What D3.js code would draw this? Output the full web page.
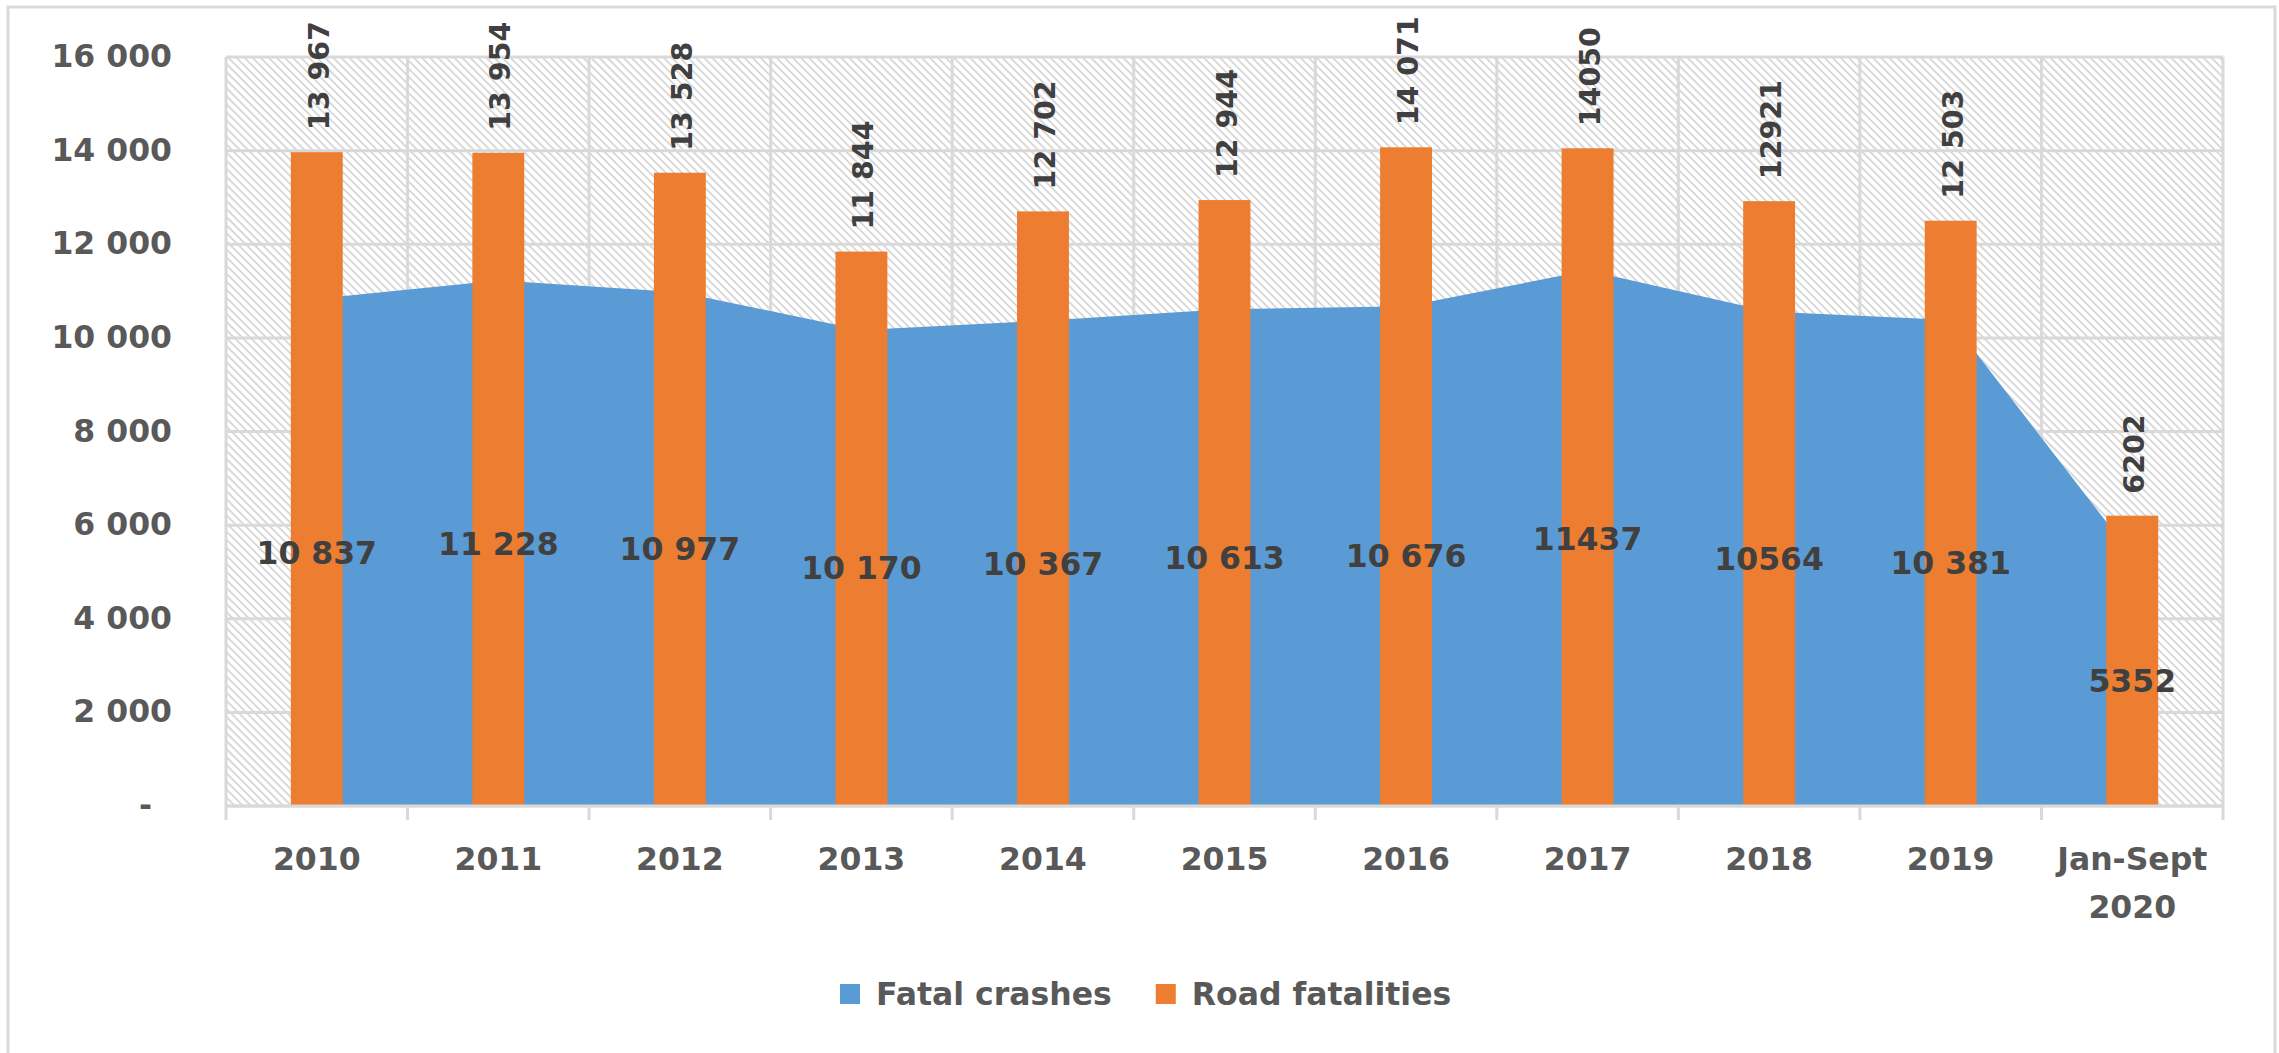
<!DOCTYPE html>
<html>
<head>
<meta charset="utf-8">
<script src="https://cdn.jsdelivr.net/npm/d3@7"></script>
<style>
  body { margin: 0; background: #fff; }
  text { font-family: "DejaVu Sans", Verdana, sans-serif; font-weight: bold; }
</style>
</head>
<body>
<svg id="chart"></svg>
<script>
// data
const categories = ["2010", "2011", "2012", "2013", "2014", "2015", "2016", "2017", "2018", "2019", "Jan-Sept 2020"]
const fatalCrashes = [10837, 11228, 10977, 10170, 10367, 10613, 10676, 11437, 10564, 10381, 5352]
const roadFatalities = [13967, 13954, 13528, 11844, 12702, 12944, 14071, 14050, 12921, 12503, 6202]
const crashLabels = ["10 837", "11 228", "10 977", "10 170", "10 367", "10 613", "10 676", "11437", "10564", "10 381", "5352"]
const fatalityLabels = ["13 967", "13 954", "13 528", "11 844", "12 702", "12 944", "14 071", "14050", "12921", "12 503", "6202"]
const yTicks = [0, 2000, 4000, 6000, 8000, 10000, 12000, 14000, 16000]
const yTickLabels = ["-", "2 000", "4 000", "6 000", "8 000", "10 000", "12 000", "14 000", "16 000"]
const seriesNames = ["Fatal crashes", "Road fatalities"]

const width = 2279, height = 1053
const margin = { top: 57, right: 56, bottom: 247, left: 226 }
const blue = "#5B9BD5", orange = "#ED7D31", grid = "#D9D9D9"
const fontSize = 31.5

const svg = d3.select("#chart").attr("width", width).attr("height", height)

// outer chart border
svg.append("rect")
  .attr("x", 8).attr("y", 7)
  .attr("width", width - 12).attr("height", height + 20)
  .attr("fill", "#fff").attr("stroke", grid).attr("stroke-width", 3)

// hatch pattern for plot background
const defs = svg.append("defs")
const pat = defs.append("pattern")
  .attr("id", "hatch")
  .attr("patternUnits", "userSpaceOnUse")
  .attr("width", 5.7).attr("height", 5.7)
  .attr("patternTransform", "rotate(-45)")
pat.append("rect").attr("width", 5.7).attr("height", 5.7).attr("fill", "#fff")
pat.append("line")
  .attr("x1", 1).attr("x2", 1).attr("y1", 0).attr("y2", 5.7)
  .attr("stroke", "#d6d6d6").attr("stroke-width", 1.8)

const x = d3.scaleBand()
  .domain(categories)
  .range([margin.left, width - margin.right])
  .padding(0)

const y = d3.scaleLinear()
  .domain([0, 16000])
  .range([height - margin.bottom, margin.top])

const cx = c => x(c) + x.bandwidth() / 2
const barW = x.bandwidth() * 0.286

svg.append("rect")
  .attr("x", margin.left).attr("y", margin.top)
  .attr("width", width - margin.left - margin.right)
  .attr("height", y(0) - margin.top)
  .attr("fill", "url(#hatch)")

// gridlines
svg.append("g")
  .selectAll("line")
  .data(yTicks)
  .join("line")
  .attr("x1", margin.left).attr("x2", width - margin.right)
  .attr("y1", d => y(d)).attr("y2", d => y(d))
  .attr("stroke", grid).attr("stroke-width", 3)

const bounds = categories.map(c => x(c)).concat([x.range()[1]])
svg.append("g")
  .selectAll("line")
  .data(bounds)
  .join("line")
  .attr("x1", d => d).attr("x2", d => d)
  .attr("y1", margin.top).attr("y2", y(0) + 14)
  .attr("stroke", grid).attr("stroke-width", 3)

// area series
const area = d3.area()
  .x((d, i) => cx(categories[i]))
  .y0(y(0))
  .y1(d => y(d))

svg.append("path")
  .datum(fatalCrashes)
  .attr("d", area)
  .attr("fill", blue)

// column series
svg.append("g")
  .selectAll("rect")
  .data(roadFatalities)
  .join("rect")
  .attr("x", (d, i) => cx(categories[i]) - barW / 2)
  .attr("width", barW)
  .attr("y", d => y(d))
  .attr("height", d => y(0) - y(d))
  .attr("fill", orange)

// x axis line
svg.append("line")
  .attr("x1", margin.left).attr("x2", width - margin.right)
  .attr("y1", y(0)).attr("y2", y(0))
  .attr("stroke", grid).attr("stroke-width", 3)

// y axis labels
svg.append("g")
  .selectAll("text")
  .data(yTicks)
  .join("text")
  .attr("x", (d, i) => d === 0 ? 152 : 172)
  .attr("y", d => y(d))
  .attr("dy", "0.32em")
  .attr("text-anchor", "end")
  .attr("fill", "#595959")
  .style("font-size", fontSize + "px")
  .text((d, i) => yTickLabels[i])

// x axis labels, wrapped on the space for the last one
const xl = svg.append("g")
  .selectAll("text")
  .data(categories)
  .join("text")
  .attr("text-anchor", "middle")
  .attr("fill", "#595959")
  .style("font-size", fontSize + "px")
xl.each(function (c) {
  const parts = c.startsWith("Jan") ? c.split(" ") : [c]
  d3.select(this).selectAll("tspan")
    .data(parts)
    .join("tspan")
    .attr("x", cx(c))
    .attr("y", (p, j) => 870 + j * 48)
    .text(p => p)
})

// data labels: road fatalities (rotated, above bars)
svg.append("g")
  .selectAll("text")
  .data(roadFatalities)
  .join("text")
  .attr("transform", (d, i) => `translate(${cx(categories[i]) + 12},${y(d) - 22}) rotate(-90)`)
  .attr("fill", "#404040")
  .style("font-size", "28.5px")
  .text((d, i) => fatalityLabels[i])

// data labels: fatal crashes (middle of area)
svg.append("g")
  .selectAll("text")
  .data(fatalCrashes)
  .join("text")
  .attr("x", (d, i) => cx(categories[i]))
  .attr("y", d => y(d / 2))
  .attr("dy", "0.36em")
  .attr("text-anchor", "middle")
  .attr("fill", "#404040")
  .style("font-size", fontSize + "px")
  .text((d, i) => crashLabels[i])

// legend
const legend = svg.append("g").attr("transform", "translate(840, 994)")
let lx = 0
seriesNames.forEach((name, i) => {
  const g = legend.append("g").attr("transform", `translate(${lx},0)`)
  g.append("rect")
    .attr("x", 0).attr("y", -10)
    .attr("width", 20).attr("height", 20)
    .attr("fill", i === 0 ? blue : orange)
  const t = g.append("text")
    .attr("x", 36).attr("y", 0).attr("dy", "0.36em")
    .attr("fill", "#595959")
    .style("font-size", fontSize + "px")
    .text(name)
  lx += 36 + t.node().getComputedTextLength() + 44
})
</script>
</body>
</html>
